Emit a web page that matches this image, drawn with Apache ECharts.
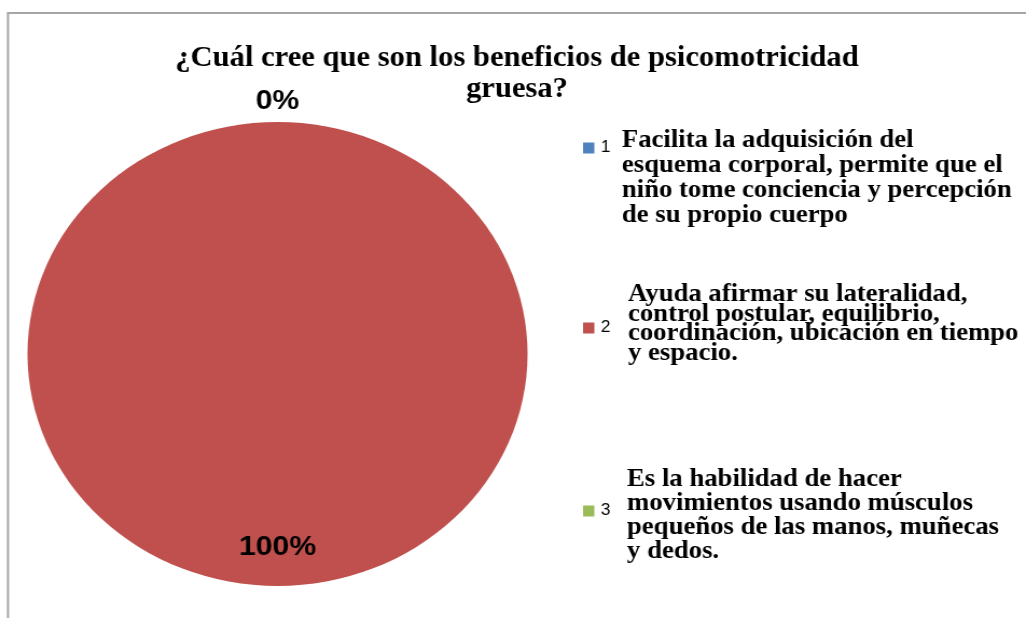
<!DOCTYPE html>
<html>
<head>
<meta charset="utf-8">
<script src="https://cdn.jsdelivr.net/npm/echarts@6/dist/echarts.min.js"></script>
<style>
html,body{margin:0;padding:0;background:#fff;overflow:hidden;}
#chart{width:952px;height:618px;transform:scaleX(1.0777);transform-origin:0 0;}
</style>
</head>
<body>
<div id="chart"></div>
<script>
// ---- data ----
const titleLines = ['¿Cuál cree que son los beneficios de psicomotricidad', 'gruesa?'];
const categories = ['1', '2', '3'];
const values = [0, 100, 0];
const colors = ['#4F81BD', '#C0504D', '#9BBB59'];
const descriptions = [
  ['Facilita la adquisición del', 'esquema corporal, permite que el', 'niño tome conciencia y percepción', 'de su propio cuerpo'],
  ['Ayuda afirmar su lateralidad,', 'control postular, equilibrio,', 'coordinación, ubicación en tiempo', 'y espacio.'],
  ['Es la habilidad de hacer', 'movimientos usando músculos', 'pequeños de las manos, muñecas', 'y dedos.']
];

// ---- layout (positions/styles) ----
const pieCenter = [257.5, 354];
const pieR = 232;
const descLeft = [577, 582.7, 581.8];
const descTop = [128, 285, 468];
const descLineH = [25, 19.5, 24];
const legendCenterY = [149, 329, 512];

const serifBold = { fontFamily: 'Liberation Serif', fontWeight: 'bold', color: '#000' };
const pieLabelStyle = { fontFamily: 'Liberation Sans', fontWeight: 'bold', fontSize: 28, color: '#000' };

const chart = echarts.init(document.getElementById('chart'), null, { renderer: 'canvas' });

const titles = [{
  text: titleLines.join('\n'),
  left: 479.7,
  top: 42.8,
  padding: 0,
  textAlign: 'center',
  textStyle: Object.assign({ fontSize: 28.4, lineHeight: 31 }, serifBold)
}].concat(descriptions.map((lines, i) => ({
  text: lines.join('\n'),
  left: descLeft[i],
  top: descTop[i],
  padding: 0,
  textStyle: Object.assign({ fontSize: 24.8, lineHeight: descLineH[i] }, serifBold)
})));

const legends = categories.map((c, i) => ({
  data: [c],
  orient: 'vertical',
  left: 541,
  top: legendCenterY[i] - 9,
  padding: 0,
  itemWidth: 10.5,
  itemHeight: 11,
  itemGap: 0,
  icon: 'rect',
  selectedMode: false,
  textStyle: { fontFamily: 'Liberation Sans', fontSize: 16, color: '#000', padding: [0, 0, 0, 1] }
}));

const mainData = categories.map((c, i) => ({ name: c, value: values[i], itemStyle: { color: colors[i] } }));
// label rings: small slices labelled just outside the pie, large slices inside near the rim
const outerLabelData = categories.map((c, i) => ({ name: c, value: values[i], label: { show: values[i] === 0 } }));
const innerLabelData = categories.map((c, i) => ({ name: c, value: values[i], label: { show: values[i] > 0 } }));

const labelRing = (radius, data) => ({
  type: 'pie',
  center: pieCenter,
  radius: radius,
  startAngle: 90,
  clockwise: true,
  silent: true,
  avoidLabelOverlap: false,
  emphasis: { disabled: true },
  itemStyle: { color: 'rgba(0,0,0,0)', borderWidth: 0 },
  label: Object.assign({ position: 'inside', formatter: '{d}%' }, pieLabelStyle),
  labelLine: { show: false },
  data: data
});

chart.setOption({
  animation: false,
  backgroundColor: '#ffffff',
  title: titles,
  legend: legends,
  graphic: [{
    type: 'rect',
    silent: true,
    shape: { x: 7.4, y: 13, width: 2000, height: 2000 },
    style: { fill: 'none', stroke: '#a6a6a6', lineWidth: 2 }
  }],
  series: [
    {
      type: 'pie',
      name: 'main',
      center: pieCenter,
      radius: [0, pieR],
      startAngle: 90,
      clockwise: true,
      silent: true,
      avoidLabelOverlap: false,
      emphasis: { disabled: true },
      itemStyle: { borderWidth: 0 },
      label: { show: false },
      labelLine: { show: false },
      data: mainData
    },
    labelRing([pieR, pieR + 36], outerLabelData),
    labelRing([pieR - 84, pieR], innerLabelData)
  ]
});
</script>
</body>
</html>
